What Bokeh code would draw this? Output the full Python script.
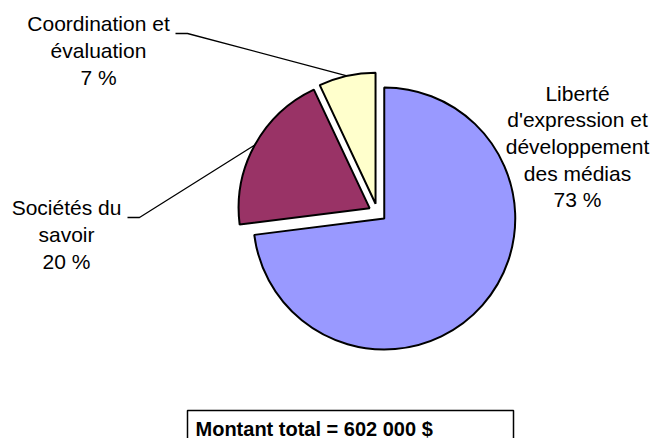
import numpy as np
from bokeh.plotting import figure
from bokeh.models import Range1d, ColumnDataSource
from bokeh.core.properties import value
from bokeh.embed import file_html
from bokeh.resources import INLINE

# ---- data ----
categories = ["Liberté\nd'expression et\ndéveloppement\ndes médias",
              "Sociétés du\nsavoir",
              "Coordination et\névaluation"]
percent = [73, 20, 7]
colors = ["#9999FF", "#993366", "#FFFFCC"]
total_label = "Montant total = 602 000 $"

# ---- layout (page pixels -> data units) ----
W, H = 654, 438


def sx(x):
    return x


def sy(y):
    return H - y


cx, cy = sx(377), sy(212)
R = 131
EXPLODE = 9

frac = np.array(percent, dtype=float) / sum(percent)
cum = np.concatenate([[0], np.cumsum(frac)])
a_from = np.deg2rad(90 - cum[:-1] * 360)   # clockwise from 12 o'clock
a_to = np.deg2rad(90 - cum[1:] * 360)
mid = (a_from + a_to) / 2
xs = cx + EXPLODE * np.cos(mid)
ys = cy + EXPLODE * np.sin(mid)

src = ColumnDataSource(dict(x=xs, y=ys, start=a_to, end=a_from, color=colors))

p = figure(width=W, height=H, x_range=Range1d(0, W), y_range=Range1d(0, H),
           output_backend="svg", toolbar_location=None, min_border=0)
p.axis.visible = False
p.grid.visible = False
p.outline_line_color = None
p.background_fill_color = "white"
p.border_fill_color = "white"

p.wedge(x="x", y="y", radius=R, start_angle="start", end_angle="end",
        direction="anticlock", fill_color="color", line_color="black",
        line_width=2, source=src)

# labels
label_text = [f"{c}\n{v} %" for c, v in zip(categories, percent)]
lab_x = [sx(577), sx(66), sx(98)]
lab_y = [sy(146), sy(234), sy(50)]
p.text(x=lab_x, y=lab_y, text=label_text, text_align="center",
       text_baseline="middle", text_font=value("Liberation Sans"),
       text_font_size="21px", text_line_height=1.16, text_color="black")

# leader lines (for slices 1 and 2)
starts = {1: (127, 217), 2: (175, 33)}
for i, (x0, y0) in starts.items():
    ex = xs[i] + R * np.cos(mid[i])
    ey = ys[i] + R * np.sin(mid[i])
    p.line([sx(x0), sx(x0 + 12), ex], [sy(y0), sy(y0), ey],
           line_color="black", line_width=1.3)

# total box
p.quad(left=sx(187), right=sx(513), top=sy(410), bottom=sy(450),
       fill_color="white", line_color="black", line_width=1.5)
p.text(x=[sx(195)], y=[sy(428)], text=[total_label], text_align="left",
       text_baseline="alphabetic", text_font=value("Liberation Sans"),
       text_font_style="bold", text_font_size="20px", text_color="black")

open("out.html", "w").write(file_html(p, INLINE))
